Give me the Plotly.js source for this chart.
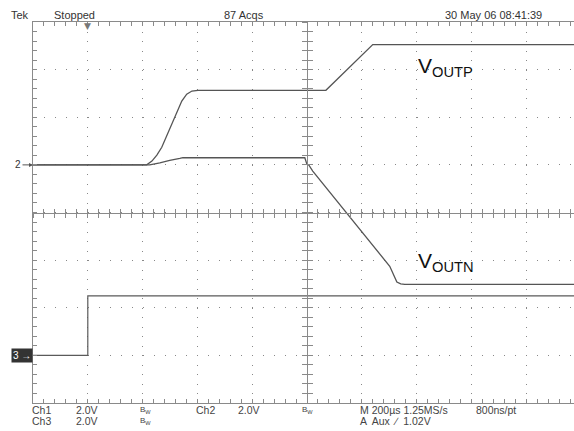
<!DOCTYPE html>
<html><head><meta charset="utf-8">
<script src="https://cdn.plot.ly/plotly-3.0.1.min.js"></script>
<style>
html,body{margin:0;padding:0;background:#fff;overflow:hidden;}
#wrap{width:574px;height:431px;overflow:hidden;position:relative;}
#chart{width:600px;height:431px;}
</style></head><body>
<div id="wrap"><div id="chart"></div></div>
<script>
// Time axis in microseconds (200 µs/div, trigger at 0)
const voutpTime  = [-200, 215, 234, 252, 270, 288, 307, 325, 343, 361, 380, 402, 869, 1040, 1800];
const voutpVolts = [0, 0, 0.16, 0.41, 0.74, 1.21, 1.71, 2.21, 2.68, 2.97, 3.10, 3.13, 3.13, 5.05, 5.05];

const voutnTime  = [-200, 226, 263, 299, 336, 347, 792, 799, 807, 821, 1102, 1117, 1128, 1142, 1157, 1800];
const voutnVolts = [0, 0, 0.08, 0.19, 0.27, 0.30, 0.30, 0.05, -0.01, -0.26, -4.26, -4.63, -4.92, -5.0, -5.02, -5.02];

const ch3Time  = [-200, 0, 0, 1800];
const ch3Volts = [0, 0, 2.5, 2.5];

const headerTexts = ["Tek", "Stopped", "87 Acqs", "30 May 06 08:41:39"];
const footerRow1  = ["Ch1", "2.0V", "B<sub>W</sub>", "Ch2", "2.0V", "B<sub>W</sub>", "M 200µs 1.25MS/s", "800ns/pt"];
const footerRow2  = ["Ch3", "2.0V", "B<sub>W</sub>", "A  Aux  ∕  1.02V"];
const traceLabels = ["V<sub>OUTP</sub>", "V<sub>OUTN</sub>"];

// plot geometry (pixels)
const L = 33, W = 548, T = 22, H = 381;
const fx = p => (p - L) / W;
const fy = p => (T + H - p) / H;

const lineCol = '#555';
const gridCol = '#8a8a8a';
const font = 'Liberation Sans, Arial, sans-serif';

// VOUTP / VOUTN are drawn on the overlaid centre-cross axes (identical ranges to x / y)
const traces = [
  {x: ch3Time, y: ch3Volts, type: 'scatter', mode: 'lines', line: {color: '#5a5a5a', width: 1.2}, xaxis: 'x', yaxis: 'y2', hoverinfo: 'skip'},
  {x: voutpTime, y: voutpVolts, type: 'scatter', mode: 'lines', line: {color: lineCol, width: 1.3}, xaxis: 'x3', yaxis: 'y3', hoverinfo: 'skip'},
  {x: voutnTime, y: voutnVolts, type: 'scatter', mode: 'lines', line: {color: lineCol, width: 1.3}, xaxis: 'x4', yaxis: 'y4', hoverinfo: 'skip'}
];

const baseX = {range: [-200, 1800], autorange: false, showticklabels: false, zeroline: false, fixedrange: true};
const baseY = {range: [-10, 6], autorange: false, showticklabels: false, zeroline: false, fixedrange: true};

const ann = [];
const hdrX = [9, 52, 222, 443];
headerTexts.forEach((t, i) => ann.push({text: t, xref: 'paper', yref: 'paper', x: fx(hdrX[i]), y: fy(14.5),
  xanchor: 'left', yanchor: 'middle', showarrow: false, font: {family: font, size: 11, color: '#333'}}));
const f1X = [31, 75, 139, 195, 237, 301, 359, 475];
footerRow1.forEach((t, i) => ann.push({text: t, xref: 'paper', yref: 'paper', x: fx(f1X[i]), y: fy(410),
  xanchor: 'left', yanchor: 'middle', showarrow: false, borderpad: 0, font: {family: font, size: t.startsWith('B') ? 8 : 10.5, color: '#444'}}));
const f2X = [31, 75, 139, 359];
footerRow2.forEach((t, i) => ann.push({text: t, xref: 'paper', yref: 'paper', x: fx(f2X[i]), y: fy(421),
  xanchor: 'left', yanchor: 'middle', showarrow: false, borderpad: 0, font: {family: font, size: t.startsWith('B') ? 8 : 10.5, color: '#444'}}));
// waveform labels
ann.push({text: traceLabels[0], xref: 'paper', yref: 'paper', x: fx(416), y: fy(67), xanchor: 'left', yanchor: 'middle',
  showarrow: false, font: {family: font, size: 21, color: '#111'}});
ann.push({text: traceLabels[1], xref: 'paper', yref: 'paper', x: fx(416), y: fy(262), xanchor: 'left', yanchor: 'middle',
  showarrow: false, font: {family: font, size: 21, color: '#111'}});
// channel ground markers
ann.push({text: '2', xref: 'paper', yref: 'y', x: 0, y: 0, showarrow: true, ax: -15, ay: 0,
  arrowhead: 2, arrowsize: 0.8, arrowwidth: 1, arrowcolor: '#555', font: {family: font, size: 10, color: '#333'}});
ann.push({text: '3 →', xref: 'paper', yref: 'y2', x: fx(33), y: 0, xanchor: 'right', yanchor: 'middle', showarrow: false,
  bgcolor: '#333', borderpad: 1, font: {family: font, size: 10, color: '#fff'}});
// trigger position marker
ann.push({text: '▼', xref: 'x', yref: 'paper', x: 0, y: 1, xanchor: 'center', yanchor: 'top', yshift: 3, showarrow: false,
  font: {family: 'DejaVu Sans', size: 9, color: '#777'}});

const layout = {
  width: 600, height: 431,
  margin: {l: L, r: 600 - L - W, t: T, b: 431 - T - H, pad: 0},
  paper_bgcolor: '#fff', plot_bgcolor: '#fff', showlegend: false,
  xaxis: Object.assign({}, baseX, {dtick: 200, tick0: 0, ticks: 'inside', ticklen: 4, tickcolor: gridCol,
    showline: true, linecolor: gridCol, linewidth: 1, mirror: 'ticks',
    showgrid: true, gridcolor: '#888', gridwidth: 1, griddash: '1px,8.525px',
    minor: {dtick: 40, tick0: 0, ticks: 'inside', ticklen: 4, tickcolor: gridCol, showgrid: false}}),
  yaxis: Object.assign({}, baseY, {dtick: 2, tick0: 0, ticks: 'inside', ticklen: 4, tickcolor: gridCol,
    showline: true, linecolor: gridCol, linewidth: 1, mirror: 'ticks',
    showgrid: true, gridcolor: '#888', gridwidth: 1, griddash: '1px,9.96px',
    minor: {dtick: 0.4, tick0: 0, ticks: 'inside', ticklen: 4, tickcolor: gridCol, showgrid: false}}),
  yaxis2: {range: [-2, 14], autorange: false, overlaying: 'y', visible: false, fixedrange: true},
  xaxis3: Object.assign({}, baseX, {overlaying: 'x', anchor: 'free', position: 0.5, side: 'bottom', dtick: 40, tick0: 0,
    ticks: 'inside', ticklen: 4, tickcolor: gridCol, showline: true, linecolor: gridCol, showgrid: false}),
  xaxis4: Object.assign({}, baseX, {overlaying: 'x', anchor: 'free', position: 0.5, side: 'bottom', dtick: 40, tick0: 0,
    ticks: 'outside', ticklen: 4, tickcolor: gridCol, showline: false, showgrid: false}),
  yaxis3: Object.assign({}, baseY, {overlaying: 'y', anchor: 'free', position: 0.5, side: 'left', dtick: 0.4, tick0: 0,
    ticks: 'inside', ticklen: 5, tickcolor: gridCol, showline: true, linecolor: gridCol, showgrid: false}),
  yaxis4: Object.assign({}, baseY, {overlaying: 'y', anchor: 'free', position: 0.5, side: 'left', dtick: 0.4, tick0: 0,
    ticks: 'outside', ticklen: 5, tickcolor: gridCol, showline: false, showgrid: false}),
  annotations: ann
};

Plotly.newPlot('chart', traces, layout, {staticPlot: true, displayModeBar: false});
</script>
</body></html>
